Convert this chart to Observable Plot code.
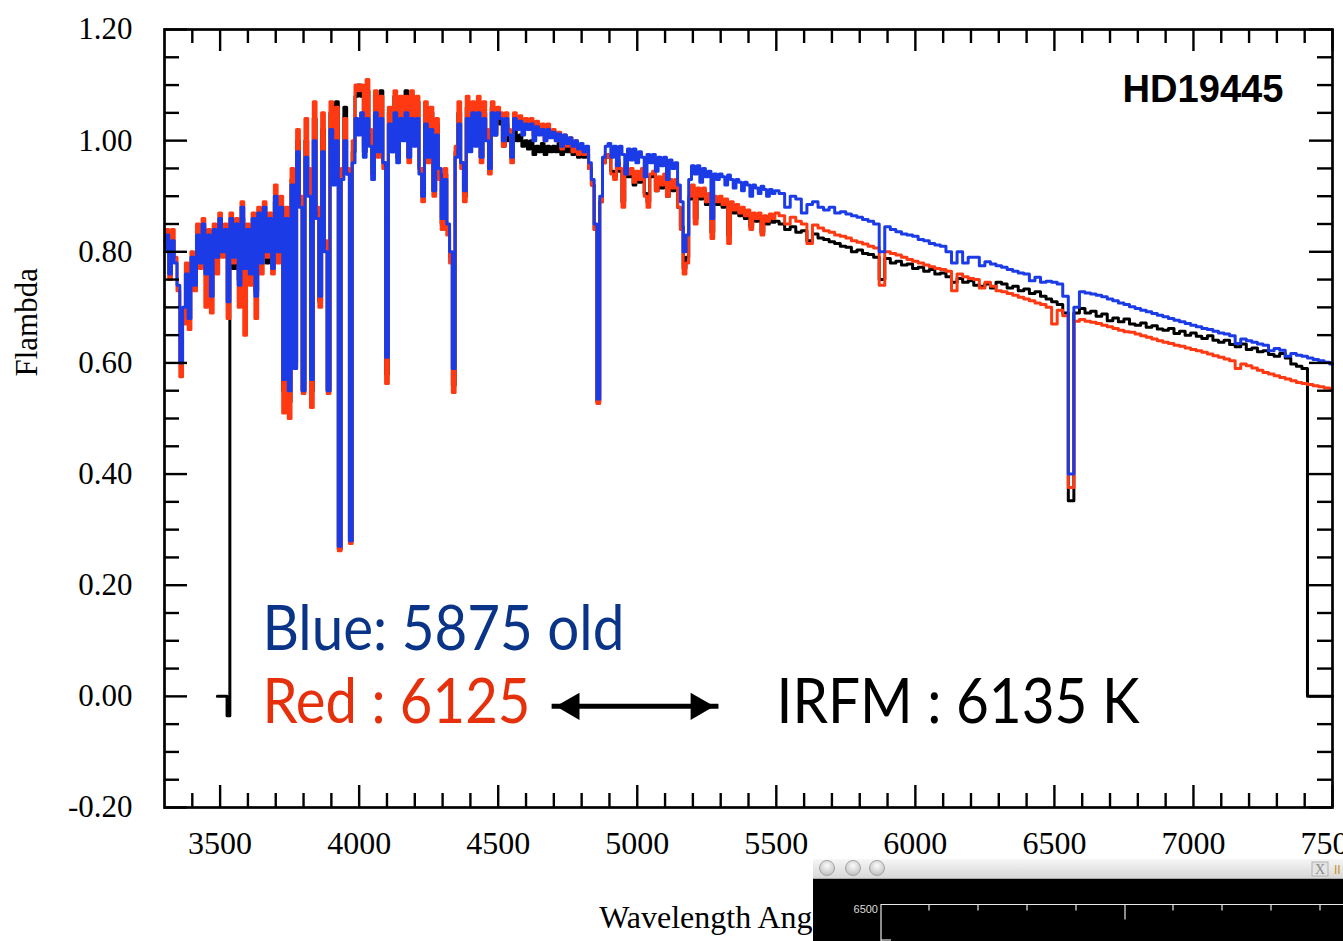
<!DOCTYPE html>
<html>
<head>
<meta charset="utf-8">
<script src="https://cdn.jsdelivr.net/npm/d3@7"></script>
<script src="https://cdn.jsdelivr.net/npm/@observablehq/plot@0.6"></script>
<style>
  html, body { margin: 0; padding: 0; background: #fff; overflow: hidden; }
  #chart { position: absolute; left: 0; top: 0; }
  #win { position: absolute; left: 813px; top: 859px; width: 530px; height: 82px; }
</style>
</head>
<body>
<div id="chart"></div>
<div id="win">
  <svg width="530" height="82" xmlns="http://www.w3.org/2000/svg">
    <defs>
      <linearGradient id="tb" x1="0" y1="0" x2="0" y2="1">
        <stop offset="0" stop-color="#f6f6f6"/>
        <stop offset="1" stop-color="#d6d6d6"/>
      </linearGradient>
      <radialGradient id="btn" cx="0.5" cy="0.35" r="0.6">
        <stop offset="0" stop-color="#fbfbfb"/>
        <stop offset="1" stop-color="#c4c4c4"/>
      </radialGradient>
    </defs>
    <rect x="0" y="0" width="530" height="20" fill="url(#tb)"/>
    <line x1="0" y1="19.5" x2="530" y2="19.5" stroke="#a8a8a8"/>
    <circle cx="14" cy="9" r="7.5" fill="url(#btn)" stroke="#a5a5a5"/>
    <circle cx="40" cy="9" r="7.5" fill="url(#btn)" stroke="#a5a5a5"/>
    <circle cx="64" cy="9" r="7.5" fill="url(#btn)" stroke="#a5a5a5"/>
    <rect x="499" y="3" width="16" height="14" fill="#e4e4e4" stroke="#b0b0b0"/>
    <text x="507" y="15" text-anchor="middle" font-family="Liberation Serif" font-size="14" fill="#8a8a8a">X</text>
    <text x="521" y="15" font-family="Liberation Sans" font-size="12" fill="#c8902c">II</text>
    <rect x="0" y="20" width="530" height="62" fill="#000"/>
    <g stroke="#e8e8e8" stroke-width="1.2" fill="none">
      <path d="M68,82 V45.5 H530"/>
      <path d="M116,45.5 v6 M165,45.5 v6 M214,45.5 v6 M263,45.5 v6 M312,45.5 v15 M360,45.5 v6 M409,45.5 v6 M458,45.5 v6 M507,45.5 v6"/>
      <path d="M68,81 h10"/>
    </g>
    <text x="65" y="54" text-anchor="end" font-family="Liberation Sans" font-size="11" fill="#dcdcdc">6500</text>
  </svg>
</div>
<script>
// ---------------- data ----------------
// wavelength sampling grids (Angstrom)
const waveA = d3.range(3300, 5500, 10);   // 220 samples
const waveB = d3.range(5500, 7501, 20);   // 101 samples

// Blue model (5875 K, old)
const blueFluxA = [
  0.80, 0.83, 0.76, 0.82, 0.78, 0.74, 0.60, 0.70, 0.76, 0.68,
  0.79, 0.74, 0.83, 0.78, 0.85, 0.76, 0.83, 0.72, 0.84, 0.79,
  0.86, 0.80, 0.84, 0.71, 0.86, 0.79, 0.85, 0.74, 0.88, 0.77,
  0.84, 0.76, 0.86, 0.72, 0.87, 0.78, 0.88, 0.80, 0.86, 0.77,
  0.90, 0.80, 0.88, 0.57, 0.86, 0.55, 0.92, 0.59, 0.98, 0.88,
  0.55, 0.97, 0.90, 0.57, 1.00, 0.86, 0.72, 0.98, 0.80, 0.55,
  1.02, 0.92, 1.00, 0.27, 0.93, 1.00, 0.94, 0.28, 0.96, 1.04,
  1.01, 1.05, 0.97, 1.04, 0.99, 0.93, 1.05, 0.98, 1.04, 0.96,
  0.61, 1.03, 0.98, 1.05, 0.96, 1.04, 1.00, 1.05, 0.97, 1.04,
  0.99, 1.04, 0.94, 0.90, 1.03, 0.97, 1.02, 0.91, 1.01, 0.95,
  0.86, 0.93, 0.85, 0.80, 0.59, 0.97, 1.03, 0.96, 0.91, 1.04,
  0.98, 1.05, 0.99, 1.05, 0.97, 1.04, 1.00, 0.95, 1.05, 1.01,
  1.05, 1.04, 1.00, 1.04, 1.01, 0.97, 1.04, 1.02, 1.035, 1.01,
  1.03, 1.02, 1.03, 1.00, 1.025, 1.01, 1.02, 1.00, 1.02, 1.005,
  1.015, 1.00, 1.012, 0.99, 1.01, 0.995, 1.005, 0.99, 1.00, 0.985,
  0.995, 0.98, 0.99, 0.96, 0.93, 0.85, 0.535, 0.90, 0.97, 0.99,
  0.995, 0.97, 0.99, 0.955, 0.99, 0.975, 0.94, 0.985, 0.965, 0.985,
  0.96, 0.98, 0.97, 0.935, 0.975, 0.96, 0.975, 0.945, 0.97, 0.955,
  0.97, 0.93, 0.965, 0.95, 0.96, 0.92, 0.89, 0.80, 0.83, 0.93,
  0.955, 0.94, 0.955, 0.925, 0.95, 0.935, 0.945, 0.86, 0.94, 0.93,
  0.94, 0.935, 0.92, 0.938, 0.93, 0.915, 0.93, 0.925, 0.91, 0.925,
  0.92, 0.90, 0.92, 0.915, 0.905, 0.918, 0.912, 0.90, 0.912, 0.905
];
const blueFluxB = [
  0.91, 0.905, 0.88, 0.90, 0.895, 0.87, 0.885, 0.89, 0.88, 0.875,
  0.88, 0.87, 0.872, 0.868, 0.865, 0.862, 0.858, 0.855, 0.85, 0.80,
  0.845, 0.84, 0.836, 0.832, 0.83, 0.828, 0.822, 0.82, 0.815, 0.812,
  0.81, 0.80, 0.78, 0.80, 0.78, 0.79, 0.79, 0.775, 0.782, 0.778,
  0.775, 0.772, 0.768, 0.765, 0.762, 0.76, 0.748, 0.754, 0.745, 0.747,
  0.745, 0.742, 0.72, 0.40, 0.70, 0.728, 0.726, 0.724, 0.722, 0.719,
  0.715, 0.712, 0.708, 0.705, 0.701, 0.698, 0.695, 0.692, 0.689, 0.686,
  0.683, 0.68, 0.677, 0.674, 0.671, 0.668, 0.665, 0.662, 0.66, 0.657,
  0.654, 0.652, 0.649, 0.635, 0.643, 0.64, 0.637, 0.634, 0.632, 0.622,
  0.626, 0.623, 0.612, 0.617, 0.614, 0.612, 0.609, 0.606, 0.604, 0.601,
  0.598
];

// Red model (6125 K)
const redFluxA = [
  0.82, 0.84, 0.75, 0.84, 0.79, 0.73, 0.575, 0.67, 0.78, 0.66,
  0.80, 0.73, 0.85, 0.77, 0.86, 0.70, 0.84, 0.69, 0.85, 0.76,
  0.87, 0.79, 0.85, 0.68, 0.87, 0.78, 0.86, 0.70, 0.89, 0.65,
  0.85, 0.74, 0.87, 0.68, 0.88, 0.76, 0.89, 0.79, 0.87, 0.76,
  0.92, 0.78, 0.90, 0.51, 0.88, 0.50, 0.95, 0.59, 1.02, 0.90,
  0.545, 1.04, 0.95, 0.52, 1.07, 0.88, 0.70, 1.05, 0.82, 0.545,
  1.07, 0.95, 1.06, 0.262, 0.95, 1.04, 0.95, 0.275, 1.00, 1.10,
  1.09, 1.10, 0.99, 1.11, 1.02, 0.94, 1.09, 0.97, 1.08, 0.95,
  0.563, 1.06, 0.99, 1.09, 0.97, 1.08, 1.02, 1.08, 0.96, 1.09,
  1.02, 1.08, 0.95, 0.89, 1.07, 0.96, 1.06, 0.90, 1.04, 0.93,
  0.84, 0.95, 0.83, 0.78, 0.547, 0.99, 1.07, 0.95, 0.89, 1.08,
  0.99, 1.07, 1.00, 1.08, 0.96, 1.07, 1.02, 0.94, 1.07, 1.02,
  1.06, 1.05, 0.99, 1.05, 1.02, 0.96, 1.05, 1.03, 1.045, 1.02,
  1.04, 1.03, 1.04, 1.01, 1.035, 1.02, 1.03, 1.00, 1.03, 1.01,
  1.02, 1.00, 1.015, 0.985, 1.01, 0.99, 1.005, 0.98, 1.00, 0.975,
  0.99, 0.975, 0.985, 0.95, 0.92, 0.84, 0.527, 0.89, 0.96, 0.975,
  0.97, 0.94, 0.93, 0.965, 0.95, 0.88, 0.955, 0.94, 0.95, 0.925,
  0.945, 0.93, 0.95, 0.90, 0.88, 0.94, 0.945, 0.91, 0.935, 0.92,
  0.94, 0.90, 0.93, 0.915, 0.93, 0.88, 0.84, 0.76, 0.78, 0.90,
  0.92, 0.85, 0.915, 0.90, 0.915, 0.89, 0.905, 0.824, 0.90, 0.89,
  0.90, 0.885, 0.895, 0.815, 0.89, 0.875, 0.885, 0.87, 0.88, 0.865,
  0.875, 0.84, 0.87, 0.86, 0.87, 0.83, 0.865, 0.855, 0.868, 0.86
];
const redFluxB = [
  0.87, 0.865, 0.85, 0.862, 0.855, 0.85, 0.815, 0.848, 0.843, 0.838,
  0.835, 0.83, 0.828, 0.825, 0.82, 0.817, 0.814, 0.81, 0.807, 0.74,
  0.80, 0.797, 0.794, 0.79, 0.786, 0.783, 0.78, 0.776, 0.773, 0.77,
  0.768, 0.765, 0.73, 0.76, 0.755, 0.752, 0.75, 0.735, 0.745, 0.738,
  0.73, 0.728, 0.725, 0.722, 0.718, 0.715, 0.712, 0.708, 0.705, 0.70,
  0.67, 0.695, 0.685, 0.376, 0.675, 0.678, 0.675, 0.673, 0.671, 0.668,
  0.665, 0.662, 0.659, 0.656, 0.655, 0.652, 0.649, 0.646, 0.643, 0.64,
  0.637, 0.635, 0.632, 0.63, 0.627, 0.624, 0.622, 0.619, 0.616, 0.613,
  0.61, 0.607, 0.604, 0.59, 0.598, 0.595, 0.591, 0.587, 0.583, 0.58,
  0.577, 0.574, 0.571, 0.568, 0.565, 0.563, 0.561, 0.559, 0.557, 0.555,
  0.553
];

// Observed spectrum (black); NaN = no data
const blackFluxA = [
  NaN, NaN, NaN, NaN, NaN, NaN, NaN, NaN, NaN, NaN,
  NaN, NaN, NaN, NaN, NaN, NaN, NaN, NaN, NaN, 0.0,
  0.0, 0.0, 0.0, -0.035, 0.84, 0.77, 0.83, 0.75, 0.86, 0.76,
  0.83, 0.77, 0.85, 0.73, 0.86, 0.79, 0.87, 0.78, 0.85, 0.79,
  0.89, 0.79, 0.87, 0.55, 0.87, 0.53, 0.93, 0.60, 1.00, 0.89,
  0.55, 1.00, 0.92, 0.55, 1.04, 0.87, 0.71, 1.02, 0.81, 0.55,
  1.05, 0.93, 1.07, 0.265, 0.94, 1.06, 0.94, 0.28, 0.98, 1.08,
  1.10, 1.08, 0.98, 1.09, 1.01, 0.95, 1.08, 0.98, 1.09, 0.96,
  0.58, 1.05, 0.98, 1.08, 0.97, 1.07, 1.01, 1.09, 0.97, 1.08,
  1.00, 1.07, 0.95, 0.90, 1.06, 0.97, 1.05, 0.91, 1.03, 0.94,
  0.85, 0.94, 0.84, 0.79, 0.56, 0.98, 1.05, 0.96, 0.90, 1.06,
  0.99, 1.06, 1.00, 1.06, 0.97, 1.05, 1.01, 0.95, 1.06, 1.01,
  1.04, 1.03, 0.99, 1.03, 1.00, 0.97, 1.02, 1.00, 1.01, 0.99,
  1.00, 0.985, 1.00, 0.975, 0.99, 0.98, 0.995, 0.975, 0.99, 0.98,
  0.99, 0.98, 0.995, 0.975, 0.99, 0.98, 0.99, 0.975, 0.985, 0.97,
  0.98, 0.97, 0.975, 0.95, 0.92, 0.84, 0.53, 0.89, 0.96, 0.975,
  0.97, 0.945, 0.935, 0.96, 0.945, 0.89, 0.95, 0.935, 0.945, 0.92,
  0.94, 0.925, 0.945, 0.905, 0.89, 0.935, 0.94, 0.91, 0.93, 0.915,
  0.935, 0.90, 0.925, 0.91, 0.925, 0.88, 0.845, 0.77, 0.79, 0.895,
  0.915, 0.86, 0.91, 0.895, 0.91, 0.885, 0.90, 0.835, 0.895, 0.885,
  0.895, 0.88, 0.89, 0.83, 0.885, 0.87, 0.88, 0.865, 0.875, 0.86,
  0.868, 0.845, 0.862, 0.855, 0.862, 0.835, 0.858, 0.85, 0.86, 0.853
];
const blackFluxB = [
  0.855, 0.85, 0.84, 0.845, 0.835, 0.838, 0.82, 0.832, 0.825, 0.822,
  0.818, 0.815, 0.81, 0.808, 0.80, 0.803, 0.797, 0.795, 0.79, 0.75,
  0.788, 0.78, 0.783, 0.776, 0.778, 0.77, 0.772, 0.765, 0.768, 0.76,
  0.762, 0.755, 0.745, 0.752, 0.745, 0.748, 0.74, 0.738, 0.742, 0.735,
  0.745, 0.742, 0.735, 0.738, 0.73, 0.733, 0.725, 0.728, 0.72, 0.715,
  0.71, 0.705, 0.69, 0.352, 0.69, 0.698, 0.69, 0.693, 0.684, 0.688,
  0.676, 0.681, 0.674, 0.679, 0.670, 0.668, 0.672, 0.664, 0.667, 0.661,
  0.659, 0.662, 0.653, 0.657, 0.650, 0.654, 0.648, 0.644, 0.649, 0.641,
  0.637, 0.641, 0.633, 0.629, 0.634, 0.624, 0.627, 0.620, 0.622, 0.615,
  0.612, 0.617, 0.609, 0.598, 0.594, 0.590, 0.0, 0.0, 0.0, 0.0,
  0.0
];

// axes
const xMajorTicks = [3500, 4000, 4500, 5000, 5500, 6000, 6500, 7000, 7500];
const xMinorTicks = d3.range(3400, 7500, 100).filter(d => d % 500 !== 0);
const yMajorTicks = [-0.2, 0, 0.2, 0.4, 0.6, 0.8, 1.0, 1.2];
const yMinorTicks = [-0.15, -0.1, -0.05, 0.05, 0.1, 0.15, 0.25, 0.3, 0.35, 0.45, 0.5, 0.55,
                     0.65, 0.7, 0.75, 0.85, 0.9, 0.95, 1.05, 1.1, 1.15];
const xTitle = "Wavelength Angstroms";
const yTitle = "Flambda";
const starName = "HD19445";

// annotations (text, anchor wavelength, anchor flux)
const noteLabels = ["Blue: 5875 old", "Red : 6125", "IRFM : 6135 K"];
const noteWaves  = [3652, 3652, 5501];
const noteFluxes = [0.12, -0.013, -0.013];
const noteColors = ["#0a3487", "#e6300c", "#000000"];
const arrowSpan = [{from: 4692, to: 5292, flux: -0.018}];

// ---------------- build ----------------
function build(name, fa, fb) {
  if (fa.length !== waveA.length || fb.length !== waveB.length)
    console.error("length mismatch", name, fa.length, fb.length);
  return waveA.map((w, i) => ({name, wave: w, flux: fa[i]}))
    .concat(waveB.map((w, i) => ({name, wave: w, flux: fb[i]})));
}
const blackData = build("black", blackFluxA, blackFluxB);
const redData = build("red", redFluxA, redFluxB);
const blueData = build("blue", blueFluxA, blueFluxB);
const notes = noteLabels.map((t, i) => ({label: t, wave: noteWaves[i], flux: noteFluxes[i], color: noteColors[i]}));

const W = 1343, H = 941, mT = 29, mR = 11, mB = 134, mL = 164;
const innerW = W - mL - mR, innerH = H - mT - mB;
const serif = "'Liberation Serif', 'Times New Roman', serif";
const lineW = 3;

const chart = Plot.plot({
  width: W, height: H,
  marginTop: mT, marginRight: mR, marginBottom: mB, marginLeft: mL,
  style: {fontFamily: serif, background: "white", color: "black", overflow: "visible"},
  x: {domain: [3300, 7500]},
  y: {domain: [-0.2, 1.2]},
  marks: [
    Plot.line(blackData, {x: "wave", y: "flux", curve: "step", stroke: "#000", strokeWidth: lineW}),
    Plot.line(redData, {x: "wave", y: "flux", curve: "step", stroke: "#ff3a12", strokeWidth: lineW}),
    Plot.line(blueData, {x: "wave", y: "flux", curve: "step", stroke: "#1b3be6", strokeWidth: lineW}),
    // inward ticks on all four sides
    Plot.tickX(xMajorTicks, {x: d => d, insetTop: innerH - 22, stroke: "black", strokeWidth: 2.4}),
    Plot.tickX(xMinorTicks, {x: d => d, insetTop: innerH - 14, stroke: "black", strokeWidth: 2.4}),
    Plot.tickX(xMajorTicks, {x: d => d, insetBottom: innerH - 22, stroke: "black", strokeWidth: 2.4}),
    Plot.tickX(xMinorTicks, {x: d => d, insetBottom: innerH - 14, stroke: "black", strokeWidth: 2.4}),
    Plot.tickY(yMajorTicks, {y: d => d, insetRight: innerW - 23, stroke: "black", strokeWidth: 2.4}),
    Plot.tickY(yMinorTicks, {y: d => d, insetRight: innerW - 15, stroke: "black", strokeWidth: 2.4}),
    Plot.tickY(yMajorTicks, {y: d => d, insetLeft: innerW - 23, stroke: "black", strokeWidth: 2.4}),
    Plot.tickY(yMinorTicks, {y: d => d, insetLeft: innerW - 15, stroke: "black", strokeWidth: 2.4}),
    Plot.frame({stroke: "black", strokeWidth: 2.7}),
    Plot.axisX(xMajorTicks, {tickSize: 0, tickPadding: 24, fontSize: 32, fontFamily: serif, label: null, tickFormat: d => String(d)}),
    Plot.axisY(yMajorTicks, {tickSize: 0, tickPadding: 32, fontSize: 31, fontFamily: serif, label: null, tickFormat: d => d.toFixed(2)}),
    Plot.text([yTitle], {frameAnchor: "left", rotate: -90, dx: -137, dy: -42, fontSize: 31, fontFamily: serif, fill: "black"}),
    Plot.text([xTitle], {frameAnchor: "bottom", lineAnchor: "top", dy: 98, fontSize: 32, fontFamily: serif, fill: "black"}),
    Plot.text([starName], {frameAnchor: "top-right", lineAnchor: "top", dx: -49, dy: 46, fontSize: 38, fontWeight: "bold", fontFamily: "'Liberation Sans', Arial, sans-serif", fill: "black"}),
    // annotation texts
    Plot.text(notes.filter(d => d.color === noteColors[0]), {x: "wave", y: "flux", text: "label", textAnchor: "start", fontSize: 62, fontFamily: "Lato, 'Open Sans', sans-serif", fill: noteColors[0]}),
    Plot.text(notes.filter(d => d.color === noteColors[1]), {x: "wave", y: "flux", text: "label", textAnchor: "start", fontSize: 62, fontFamily: "Lato, 'Open Sans', sans-serif", fill: noteColors[1]}),
    Plot.text(notes.filter(d => d.color === noteColors[2]), {x: "wave", y: "flux", text: "label", textAnchor: "start", fontSize: 62, fontFamily: "Lato, 'Open Sans', sans-serif", fill: noteColors[2]}),
    // double-headed arrow
    Plot.link(arrowSpan, {x1: "from", x2: "to", y1: "flux", y2: "flux", stroke: "black", strokeWidth: 5}),
    Plot.dot(arrowSpan, {x: "from", y: "flux", symbol: "triangle2", r: 13, rotate: -90, dx: 20, fill: "black", stroke: "none"}),
    Plot.dot(arrowSpan, {x: "to", y: "flux", symbol: "triangle2", r: 13, rotate: 90, dx: -20, fill: "black", stroke: "none"})
  ]
});
document.getElementById("chart").appendChild(chart);

// fit a few text widths to the reference
const fits = {"Blue: 5875 old": 362, "Red : 6125": 268, "IRFM : 6135 K": 363, "HD19445": 161};
d3.select(chart).selectAll("text").each(function () {
  const t = this.textContent;
  if (fits[t] && this.children.length === 0) {
    this.setAttribute("textLength", fits[t]);
    this.setAttribute("lengthAdjust", "spacingAndGlyphs");
  }
});
</script>
</body>
</html>
